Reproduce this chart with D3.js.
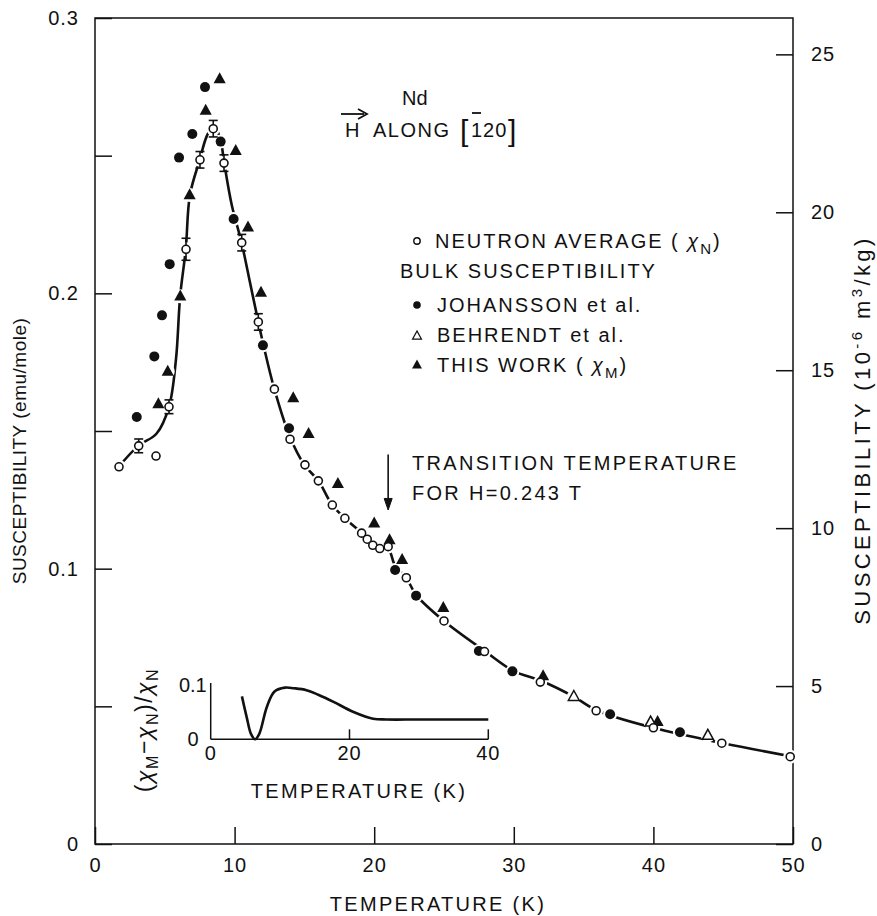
<!DOCTYPE html>
<html lang="en">
<head>
<meta charset="UTF-8">
<title>Nd susceptibility</title>
<script src="https://d3js.org/d3.v7.min.js"></script>
<style>
  body { margin: 0; background: #fff; }
  svg text { font-family: "Liberation Sans", Arial, sans-serif; fill: #111; }
  .axis path, .axis line { stroke: #111; stroke-width: 1.5; }
  .axis text { font-size: 20px; letter-spacing: 1px; }
</style>
</head>
<body>
<div id="chart"></div>
<script>
// neutron average chi_N : [T (K), chi (emu/mole), error half-height]
const neutron = [
  [1.72, 0.137, 0], [3.13, 0.1446, 0.0025], [4.37, 0.1409, 0], [5.3, 0.1588, 0.0025],
  [6.52, 0.216, 0.004], [7.52, 0.2485, 0.003], [8.47, 0.2598, 0.003], [9.24, 0.2473, 0.003],
  [10.51, 0.2184, 0.003], [11.7, 0.1896, 0.003], [12.85, 0.1652, 0], [13.97, 0.147, 0],
  [15.04, 0.1377, 0], [16.0, 0.1319, 0], [17.0, 0.1231, 0], [17.9, 0.1183, 0],
  [19.1, 0.1129, 0], [19.5, 0.1107, 0], [19.9, 0.1085, 0], [20.4, 0.1073, 0],
  [21.0, 0.108, 0], [22.3, 0.0967, 0], [25.0, 0.081, 0], [27.9, 0.0699, 0],
  [31.9, 0.0588, 0], [35.9, 0.0484, 0], [40.0, 0.0422, 0], [44.9, 0.0366, 0], [49.8, 0.0317, 0]
];
// bulk, Johansson et al.
const johansson = [
  [2.99, 0.1551], [4.25, 0.1771], [4.8, 0.192], [5.35, 0.2106], [6.02, 0.2493],
  [6.97, 0.2579], [7.88, 0.2749], [9.0, 0.2551], [9.93, 0.227], [12.03, 0.1811],
  [13.9, 0.151], [21.5, 0.0995], [23.0, 0.0902], [27.5, 0.0701], [29.9, 0.0627],
  [36.9, 0.0471], [41.9, 0.0406]
];
// bulk, Behrendt et al.
const behrendt = [[34.3, 0.0535], [39.8, 0.0442], [43.9, 0.0394]];
// bulk, this work chi_M
const thisWork = [
  [4.54, 0.1598], [5.21, 0.1716], [6.11, 0.1989], [6.78, 0.2357], [7.93, 0.2664],
  [8.93, 0.2778], [10.08, 0.2518], [10.96, 0.224], [11.89, 0.2003], [14.2, 0.162],
  [15.3, 0.149], [17.4, 0.1308], [20.0, 0.1165], [21.1, 0.1104], [22.0, 0.1032],
  [24.95, 0.0858], [32.1, 0.061], [40.3, 0.0444]
];
// smooth line through the neutron data
const fitCurve = [
  [1.7, 0.137], [3.1, 0.1446], [4.4, 0.149], [5.3, 0.1588], [5.8, 0.176], [6.1, 0.199],
  [6.5, 0.216], [6.8, 0.2357], [7.5, 0.2485], [8.0, 0.257], [8.5, 0.2612], [9.0, 0.2555],
  [9.25, 0.2475], [9.8, 0.232], [10.5, 0.2184], [11.1, 0.204], [11.7, 0.1896], [12.1, 0.1805],
  [12.85, 0.1652], [13.95, 0.148], [15.0, 0.1377], [16.0, 0.1319], [17.0, 0.1231],
  [17.9, 0.1183], [19.1, 0.1129], [19.9, 0.1085], [20.4, 0.1073], [21.0, 0.1072],
  [21.5, 0.101], [22.3, 0.0967], [23.0, 0.0905], [25.0, 0.081], [28.0, 0.0698],
  [30.0, 0.0628], [32.0, 0.0592], [34.3, 0.0535], [36.0, 0.0484], [40.0, 0.0422],
  [45.0, 0.0366], [50.0, 0.0317]
];
// inset: (chi_M - chi_N)/chi_N vs T
const insetCurve = [
  [4.5, 0.079], [5.2, 0.04], [5.8, 0.01], [6.4, 0.0], [7.0, 0.01], [8.1, 0.06],
  [9.2, 0.088], [10.7, 0.0951], [12.0, 0.094], [13.8, 0.0905], [15.5, 0.082],
  [17.7, 0.069], [20.5, 0.0508], [23.4, 0.038], [25.3, 0.0365], [30, 0.0365], [40, 0.0365]
];

const xTicks = [0, 10, 20, 30, 40, 50];
const yTicks = [0, 0.05, 0.1, 0.15, 0.2, 0.25, 0.3];
const yLabelled = [0, 0.1, 0.2, 0.3];
const yRightTicks = [0, 5, 10, 15, 20, 25];
const insetXTicks = [0, 20, 40];
const insetYTicks = [0, 0.1];

const SI_FACTOR = 87.17; // emu/mole -> 1e-6 m3/kg for Nd

const width = 877, height = 916;
const box = {left: 95, right: 793, top: 18, bottom: 844};

const svg = d3.select("#chart").append("svg")
  .attr("width", width)
  .attr("height", height);

const x = d3.scaleLinear().domain([0, 50]).range([box.left, box.right]);
const y = d3.scaleLinear().domain([0, 0.3]).range([box.bottom, box.top]);
const yR = d3.scaleLinear().domain([0, 0.3 * SI_FACTOR]).range([box.bottom, box.top]);

// frame
svg.append("rect")
  .attr("x", box.left).attr("y", box.top)
  .attr("width", box.right - box.left).attr("height", box.bottom - box.top)
  .attr("fill", "none").attr("stroke", "#111").attr("stroke-width", 1.5);

svg.append("g").attr("class", "axis")
  .attr("transform", `translate(${box.left},0)`)
  .call(d3.axisLeft(y).tickValues(yTicks).tickSizeInner(-17).tickSizeOuter(0).tickPadding(16)
    .tickFormat(d => yLabelled.some(v => Math.abs(v - d) < 1e-9) ? (d === 0 ? "0" : d.toFixed(1)) : ""));

svg.append("g").attr("class", "axis")
  .attr("transform", `translate(0,${box.bottom})`)
  .call(d3.axisBottom(x).tickValues(xTicks).tickSizeInner(-17).tickSizeOuter(0).tickPadding(14));

svg.append("g").attr("class", "axis")
  .attr("transform", `translate(${box.right},0)`)
  .call(d3.axisRight(yR).tickValues(yRightTicks).tickSizeInner(-17).tickSizeOuter(0).tickPadding(18));

svg.selectAll(".axis .domain").remove();

// axis titles
svg.append("text")
  .attr("transform", `translate(26,${(box.top + box.bottom) / 2 + 20}) rotate(-90)`)
  .attr("text-anchor", "middle").attr("font-size", 19).attr("letter-spacing", 0.5)
  .text("SUSCEPTIBILITY (emu/mole)");

const rt = svg.append("text")
  .attr("transform", "translate(870,430) rotate(-90)")
  .attr("text-anchor", "middle").attr("font-size", 22).attr("letter-spacing", 3.4);
rt.append("tspan").text("SUSCEPTIBILITY (10");
rt.append("tspan").attr("dy", -8).attr("font-size", 15).text("-6");
rt.append("tspan").attr("dy", 8).text(" m");
rt.append("tspan").attr("dy", -8).attr("font-size", 15).text("3");
rt.append("tspan").attr("dy", 8).text("/kg)");

svg.append("text")
  .attr("x", (box.left + box.right) / 2 - 6).attr("y", 911)
  .attr("text-anchor", "middle").attr("font-size", 20).attr("letter-spacing", 2.3)
  .text("TEMPERATURE (K)");

// fitted line
const line = d3.line()
  .x(d => x(d[0])).y(d => y(d[1]))
  .curve(d3.curveCatmullRom.alpha(0.5));

svg.append("path")
  .datum(fitCurve)
  .attr("d", line)
  .attr("fill", "none").attr("stroke", "#111").attr("stroke-width", 2.6);

// markers
const triPath = s => `M0,${-s * 0.62}L${s * 0.55},${s * 0.38}L${-s * 0.55},${s * 0.38}Z`;
const allPts = [...neutron, ...johansson, ...behrendt, ...thisWork];

// white gaps where the line meets a symbol
svg.append("g").selectAll("circle")
  .data(allPts)
  .join("circle")
  .attr("cx", d => x(d[0])).attr("cy", d => y(d[1]))
  .attr("r", 7).attr("fill", "#fff");

// error bars
const eb = svg.append("g").attr("stroke", "#111").attr("stroke-width", 1.6);
neutron.filter(d => d[2] > 0).forEach(d => {
  const cx = x(d[0]), y0 = y(d[1] - d[2]), y1 = y(d[1] + d[2]);
  eb.append("line").attr("x1", cx).attr("x2", cx).attr("y1", y0).attr("y2", y1);
  eb.append("line").attr("x1", cx - 4.5).attr("x2", cx + 4.5).attr("y1", y0).attr("y2", y0);
  eb.append("line").attr("x1", cx - 4.5).attr("x2", cx + 4.5).attr("y1", y1).attr("y2", y1);
});

svg.append("g").selectAll("path")
  .data(thisWork)
  .join("path")
  .attr("transform", d => `translate(${x(d[0])},${y(d[1])})`)
  .attr("d", triPath(11)).attr("fill", "#111");

svg.append("g").selectAll("path")
  .data(behrendt)
  .join("path")
  .attr("transform", d => `translate(${x(d[0])},${y(d[1])})`)
  .attr("d", triPath(10)).attr("fill", "#fff").attr("stroke", "#111").attr("stroke-width", 1.5);

svg.append("g").selectAll("circle")
  .data(johansson)
  .join("circle")
  .attr("cx", d => x(d[0])).attr("cy", d => y(d[1]))
  .attr("r", 5).attr("fill", "#111");

svg.append("g").selectAll("circle")
  .data(neutron)
  .join("circle")
  .attr("cx", d => x(d[0])).attr("cy", d => y(d[1]))
  .attr("r", 4).attr("fill", "#fff").attr("stroke", "#111").attr("stroke-width", 1.6);

// title block
const title = svg.append("g").attr("font-size", 20);
title.append("text").attr("x", 402).attr("y", 105).attr("font-size", 20).text("Nd");
title.append("text").attr("x", 345).attr("y", 137).attr("font-size", 20).text("H");
title.append("line").attr("x1", 341).attr("x2", 364).attr("y1", 114).attr("y2", 114)
  .attr("stroke", "#111").attr("stroke-width", 1.8);
title.append("path").attr("d", "M358,109L367,114L358,119").attr("fill", "none")
  .attr("stroke", "#111").attr("stroke-width", 1.8);
title.append("text").attr("x", 373).attr("y", 137).attr("font-size", 20).attr("letter-spacing", 1.5).text("ALONG");
title.append("text").attr("x", 460).attr("y", 141).attr("font-size", 30).attr("font-weight", 300).text("[");
title.append("text").attr("x", 471).attr("y", 137).attr("font-size", 20).attr("letter-spacing", 1).text("120");
title.append("line").attr("x1", 472).attr("x2", 481).attr("y1", 113).attr("y2", 113)
  .attr("stroke", "#111").attr("stroke-width", 1.8);
title.append("text").attr("x", 508).attr("y", 141).attr("font-size", 30).attr("font-weight", 300).text("]");

// legend
const lg = svg.append("g").attr("font-size", 20).attr("letter-spacing", 2);
const lx = 417;
const chiLabel = (sel, pre, sub, post) => {
  const t = sel;
  t.append("tspan").text(pre);
  t.append("tspan").attr("font-style", "italic").text("χ");
  t.append("tspan").attr("dy", 6).attr("font-size", 15).text(sub);
  t.append("tspan").attr("dy", -6).text(post);
};
lg.append("circle").attr("cx", lx).attr("cy", 241).attr("r", 3.2)
  .attr("fill", "#fff").attr("stroke", "#111").attr("stroke-width", 1.4);
chiLabel(lg.append("text").attr("x", 435).attr("y", 248), "NEUTRON AVERAGE ( ", "N", ")");
lg.append("text").attr("x", 400).attr("y", 278).text("BULK SUSCEPTIBILITY");
lg.append("circle").attr("cx", lx).attr("cy", 305).attr("r", 3.8).attr("fill", "#111");
lg.append("text").attr("x", 437).attr("y", 312).text("JOHANSSON et al.");
lg.append("path").attr("transform", `translate(${lx},336)`).attr("d", triPath(8))
  .attr("fill", "#fff").attr("stroke", "#111").attr("stroke-width", 1.3);
lg.append("text").attr("x", 437).attr("y", 342).text("BEHRENDT et al.");
lg.append("path").attr("transform", `translate(${lx},365)`).attr("d", triPath(9)).attr("fill", "#111");
chiLabel(lg.append("text").attr("x", 437).attr("y", 372), "THIS WORK ( ", "M", ")");

// transition temperature arrow + note
const Ttr = 21.0;
svg.append("line")
  .attr("x1", x(Ttr)).attr("x2", x(Ttr)).attr("y1", y(0.1415)).attr("y2", y(0.1225))
  .attr("stroke", "#111").attr("stroke-width", 1.6);
svg.append("path")
  .attr("d", `M${x(Ttr) - 4},${y(0.1255)}L${x(Ttr)},${y(0.1213)}L${x(Ttr) + 4},${y(0.1255)}Z`)
  .attr("fill", "#111").attr("stroke", "#111");
svg.append("text").attr("x", 412).attr("y", 470).attr("font-size", 20).attr("letter-spacing", 2.3)
  .text("TRANSITION TEMPERATURE");
svg.append("text").attr("x", 412).attr("y", 500).attr("font-size", 20).attr("letter-spacing", 2.3)
  .text("FOR H=0.243 T");

// inset
const ix = d3.scaleLinear().domain([0, 40]).range([210.7, 488.3]);
const iy = d3.scaleLinear().domain([0, 0.1]).range([739.3, 685]);
const inset = svg.append("g");
inset.append("line").attr("x1", ix(0)).attr("x2", ix(0)).attr("y1", iy(0)).attr("y2", iy(0.1) - 2)
  .attr("stroke", "#111").attr("stroke-width", 1.5);
inset.append("line").attr("x1", ix(0)).attr("x2", ix(40)).attr("y1", iy(0)).attr("y2", iy(0))
  .attr("stroke", "#111").attr("stroke-width", 1.5);
inset.append("g").selectAll("line")
  .data(insetXTicks.filter(d => d > 0))
  .join("line")
  .attr("x1", d => ix(d)).attr("x2", d => ix(d)).attr("y1", iy(0)).attr("y2", iy(0) - 10)
  .attr("stroke", "#111").attr("stroke-width", 1.5);
inset.append("g").selectAll("text")
  .data(insetXTicks)
  .join("text")
  .attr("x", d => ix(d)).attr("y", iy(0) + 21)
  .attr("text-anchor", "middle").attr("font-size", 20).attr("letter-spacing", 1)
  .text(d => d);
inset.append("g").selectAll("text")
  .data(insetYTicks)
  .join("text")
  .attr("x", d => d === 0 ? ix(0) - 12 : ix(0) - 4).attr("y", d => iy(d) + 7)
  .attr("text-anchor", "end").attr("font-size", 20)
  .text(d => d === 0 ? "0" : d.toFixed(1));
inset.append("path")
  .datum(insetCurve)
  .attr("d", d3.line().x(d => ix(d[0])).y(d => iy(d[1])).curve(d3.curveCatmullRom.alpha(0.5)))
  .attr("fill", "none").attr("stroke", "#111").attr("stroke-width", 2.6);
inset.append("text").attr("x", 359).attr("y", 798).attr("text-anchor", "middle")
  .attr("font-size", 20).attr("letter-spacing", 2.3).text("TEMPERATURE (K)");
const it = inset.append("text")
  .attr("transform", "translate(152,730) rotate(-90)")
  .attr("text-anchor", "middle").attr("font-size", 23).attr("letter-spacing", 1.5);
it.append("tspan").text("(");
it.append("tspan").attr("font-style", "italic").text("χ");
it.append("tspan").attr("dy", 6).attr("font-size", 16).text("M");
it.append("tspan").attr("dy", -6).text("−");
it.append("tspan").attr("font-style", "italic").text("χ");
it.append("tspan").attr("dy", 6).attr("font-size", 16).text("N");
it.append("tspan").attr("dy", -6).text(")/");
it.append("tspan").attr("font-style", "italic").text("χ");
it.append("tspan").attr("dy", 6).attr("font-size", 16).text("N");
</script>
</body>
</html>
